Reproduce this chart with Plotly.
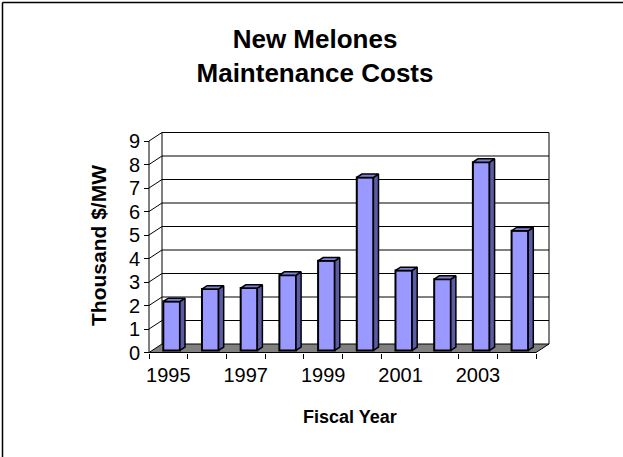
import plotly.graph_objects as go

# Fiscal years and maintenance cost (thousand $/MW)
years = [1995, 1996, 1997, 1998, 1999, 2000, 2001, 2002, 2003, 2004]
costs = [2.08, 2.61, 2.65, 3.2, 3.81, 7.36, 3.4, 3.03, 8.01, 5.09]
label_years = years[::2]
y_ticks = list(range(0, 10))

W, H = 623, 457
FONT = "Arial, Liberation Sans, sans-serif"

# pixel geometry of the front plane
x_left_px, px_per_year = 149.0, 38.7
y_zero_px, px_per_unit = 352.5, 23.5

# oblique depth of the floor (in data units) and the bar slab within it
DX = 13.0 / px_per_year
DY = 8.5 / px_per_unit
d0, d1 = 0.25, 0.64
bar_w = 0.43

x_start = years[0] - 0.5
x_end = years[-1] + 0.5
y_top = max(y_ticks)

xrange_ = [x_start - x_left_px / px_per_year, x_start + (W - x_left_px) / px_per_year]
yrange_ = [-(H - y_zero_px) / px_per_unit, y_zero_px / px_per_unit]

front = "#9999FF"
top_c = "#8080D8"
side_c = "#5C5CA6"

fig = go.Figure()

# front faces
fig.add_trace(go.Bar(
    x=years, y=costs, base=d0 * DY, width=bar_w,
    offset=-bar_w / 2 + d0 * DX,
    marker=dict(color=front, line=dict(color="black", width=2)),
    showlegend=False, hoverinfo="x+y",
))

# top and side faces, projected from the same values
tx, ty, sx, sy = [], [], [], []
for yr, v in zip(years, costs):
    l, r = yr - bar_w / 2, yr + bar_w / 2
    tx += [l + d0 * DX, r + d0 * DX, r + d1 * DX, l + d1 * DX, l + d0 * DX, None]
    ty += [v + d0 * DY, v + d0 * DY, v + d1 * DY, v + d1 * DY, v + d0 * DY, None]
    sx += [r + d0 * DX, r + d0 * DX, r + d1 * DX, r + d1 * DX, r + d0 * DX, None]
    sy += [d0 * DY, v + d0 * DY, v + d1 * DY, d1 * DY, d0 * DY, None]

fig.add_trace(go.Scatter(x=sx, y=sy, mode="lines", fill="toself", fillcolor=side_c,
                         line=dict(color="black", width=1.5), showlegend=False, hoverinfo="skip"))
fig.add_trace(go.Scatter(x=tx, y=ty, mode="lines", fill="toself", fillcolor=top_c,
                         line=dict(color="black", width=1.5), showlegend=False, hoverinfo="skip"))

shapes = []
line_k = dict(color="black", width=1)
# floor
shapes.append(dict(
    type="path", xref="x", yref="y", layer="below",
    path=f"M {x_start},0 L {x_end},0 L {x_end + DX},{DY} L {x_start + DX},{DY} Z",
    fillcolor="#808080", line=line_k,
))
# back-wall gridlines and side-wall edges
for v in y_ticks:
    if v > 0:
        shapes.append(dict(type="line", xref="x", yref="y", layer="below",
                           x0=x_start + DX, y0=v + DY, x1=x_end + DX, y1=v + DY, line=line_k))
        shapes.append(dict(type="line", xref="x", yref="y", layer="below",
                           x0=x_start, y0=v, x1=x_start + DX, y1=v + DY, line=line_k))
# wall verticals and front value axis
for xv in (x_start + DX, x_end + DX):
    shapes.append(dict(type="line", xref="x", yref="y", layer="below",
                       x0=xv, y0=DY, x1=xv, y1=y_top + DY, line=line_k))
shapes.append(dict(type="line", xref="x", yref="y", layer="below",
                   x0=x_start, y0=0, x1=x_start, y1=y_top, line=line_k))
# chart frame (top and left edges)
shapes.append(dict(type="line", xref="paper", yref="paper",
                   x0=2.5 / W, x1=2.5 / W, y0=0, y1=1 - 2.5 / H,
                   line=dict(color="black", width=1.5)))
shapes.append(dict(type="line", xref="paper", yref="paper",
                   x0=2.5 / W, x1=1, y0=1 - 2.5 / H, y1=1 - 2.5 / H,
                   line=dict(color="black", width=1.5)))

fig.update_layout(
    width=W, height=H,
    margin=dict(l=0, r=0, t=0, b=0),
    paper_bgcolor="white", plot_bgcolor="white",
    font=dict(family=FONT, color="black"),
    shapes=shapes,
    title=dict(text="<b>New Melones<br>Maintenance Costs</b>",
               x=315 / W, xanchor="center", y=1 - 48 / H, yanchor="middle",
               font=dict(size=26, family=FONT, color="black")),
    xaxis=dict(
        range=xrange_, domain=[0, 1], anchor="free", position=(H - y_zero_px) / H,
        showgrid=False, zeroline=False, showline=False,
        tickvals=years,
        ticktext=[str(y) if y in label_years else "" for y in years],
        ticks="", tickfont=dict(size=20, family=FONT),
        ticklabelstandoff=8,
        minor=dict(tickvals=[y - 0.5 for y in years] + [x_end], ticks="outside",
                   ticklen=5, tickcolor="black", tickwidth=1, showgrid=False),
    ),
    yaxis=dict(
        range=yrange_, domain=[0, 1], anchor="free", position=x_left_px / W,
        showgrid=False, zeroline=False, showline=False,
        tickvals=y_ticks, ticks="outside", ticklen=5, tickcolor="black", tickwidth=1,
        tickfont=dict(size=20, family=FONT),
    ),
    annotations=[
        dict(text="<b>Fiscal Year</b>", xref="paper", yref="paper",
             x=350 / W, y=1 - 417 / H, showarrow=False,
             font=dict(size=18, family=FONT), xanchor="center", yanchor="middle"),
        dict(text="<b>Thousand $/MW</b>", xref="paper", yref="paper",
             x=98 / W, y=1 - 246 / H, showarrow=False, textangle=-90,
             font=dict(size=21, family=FONT), xanchor="center", yanchor="middle"),
    ],
)

fig.write_html("out.html")
